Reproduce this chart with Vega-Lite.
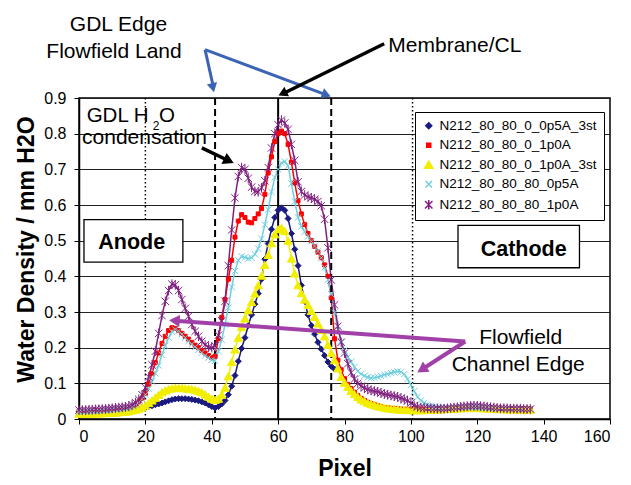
{
"$schema":"https://vega.github.io/schema/vega-lite/v6.json",
"width":531,"height":321,
"autosize":{"type":"none"},
"padding":{"left":79,"top":98,"right":21,"bottom":66},
"background":"white",
"config":{"font":"Liberation Sans","view":{"stroke":"#000","strokeWidth":1.5}},
"datasets":{
"d":[
{"s":"A","x":0,"y":0.020},{"s":"A","x":1,"y":0.020},{"s":"A","x":2,"y":0.020},{"s":"A","x":3,"y":0.020},{"s":"A","x":4,"y":0.020},{"s":"A","x":5,"y":0.020},{"s":"A","x":6,"y":0.020},{"s":"A","x":7,"y":0.020},{"s":"A","x":8,"y":0.021},{"s":"A","x":9,"y":0.021},
{"s":"A","x":10,"y":0.021},{"s":"A","x":11,"y":0.021},{"s":"A","x":12,"y":0.022},{"s":"A","x":13,"y":0.022},{"s":"A","x":14,"y":0.023},{"s":"A","x":15,"y":0.024},{"s":"A","x":16,"y":0.025},{"s":"A","x":17,"y":0.026},{"s":"A","x":18,"y":0.028},{"s":"A","x":19,"y":0.030},
{"s":"A","x":20,"y":0.032},{"s":"A","x":21,"y":0.035},{"s":"A","x":22,"y":0.037},{"s":"A","x":23,"y":0.040},{"s":"A","x":24,"y":0.042},{"s":"A","x":25,"y":0.045},{"s":"A","x":26,"y":0.048},{"s":"A","x":27,"y":0.051},{"s":"A","x":28,"y":0.054},{"s":"A","x":29,"y":0.056},
{"s":"A","x":30,"y":0.057},{"s":"A","x":31,"y":0.057},{"s":"A","x":32,"y":0.057},{"s":"A","x":33,"y":0.056},{"s":"A","x":34,"y":0.055},{"s":"A","x":35,"y":0.053},{"s":"A","x":36,"y":0.051},{"s":"A","x":37,"y":0.048},{"s":"A","x":38,"y":0.045},{"s":"A","x":39,"y":0.040},
{"s":"A","x":40,"y":0.035},{"s":"A","x":41,"y":0.031},{"s":"A","x":42,"y":0.035},{"s":"A","x":43,"y":0.042},{"s":"A","x":44,"y":0.052},{"s":"A","x":45,"y":0.068},{"s":"A","x":46,"y":0.092},{"s":"A","x":47,"y":0.122},{"s":"A","x":48,"y":0.162},{"s":"A","x":49,"y":0.198},
{"s":"A","x":50,"y":0.228},{"s":"A","x":51,"y":0.262},{"s":"A","x":52,"y":0.292},{"s":"A","x":53,"y":0.322},{"s":"A","x":54,"y":0.352},{"s":"A","x":55,"y":0.392},{"s":"A","x":56,"y":0.448},{"s":"A","x":57,"y":0.492},{"s":"A","x":58,"y":0.532},{"s":"A","x":59,"y":0.565},
{"s":"A","x":60,"y":0.585},{"s":"A","x":61,"y":0.592},{"s":"A","x":62,"y":0.585},{"s":"A","x":63,"y":0.562},{"s":"A","x":64,"y":0.520},{"s":"A","x":65,"y":0.476},{"s":"A","x":66,"y":0.430},{"s":"A","x":67,"y":0.375},{"s":"A","x":68,"y":0.330},{"s":"A","x":69,"y":0.292},
{"s":"A","x":70,"y":0.262},{"s":"A","x":71,"y":0.238},{"s":"A","x":72,"y":0.215},{"s":"A","x":73,"y":0.196},{"s":"A","x":74,"y":0.178},{"s":"A","x":75,"y":0.160},{"s":"A","x":76,"y":0.148},{"s":"A","x":77,"y":0.140},
{"s":"B","x":0,"y":0.020},{"s":"B","x":1,"y":0.020},{"s":"B","x":2,"y":0.021},{"s":"B","x":3,"y":0.021},{"s":"B","x":4,"y":0.022},{"s":"B","x":5,"y":0.022},{"s":"B","x":6,"y":0.023},{"s":"B","x":7,"y":0.023},{"s":"B","x":8,"y":0.024},{"s":"B","x":9,"y":0.025},
{"s":"B","x":10,"y":0.026},{"s":"B","x":11,"y":0.027},{"s":"B","x":12,"y":0.028},{"s":"B","x":13,"y":0.029},{"s":"B","x":14,"y":0.030},{"s":"B","x":15,"y":0.032},{"s":"B","x":16,"y":0.035},{"s":"B","x":17,"y":0.040},{"s":"B","x":18,"y":0.048},{"s":"B","x":19,"y":0.058},
{"s":"B","x":20,"y":0.072},{"s":"B","x":21,"y":0.098},{"s":"B","x":22,"y":0.128},{"s":"B","x":23,"y":0.158},{"s":"B","x":24,"y":0.185},{"s":"B","x":25,"y":0.212},{"s":"B","x":26,"y":0.232},{"s":"B","x":27,"y":0.248},{"s":"B","x":28,"y":0.256},{"s":"B","x":29,"y":0.254},
{"s":"B","x":30,"y":0.248},{"s":"B","x":31,"y":0.240},{"s":"B","x":32,"y":0.232},{"s":"B","x":33,"y":0.224},{"s":"B","x":34,"y":0.215},{"s":"B","x":35,"y":0.207},{"s":"B","x":36,"y":0.200},{"s":"B","x":37,"y":0.192},{"s":"B","x":38,"y":0.185},{"s":"B","x":39,"y":0.178},
{"s":"B","x":40,"y":0.172},{"s":"B","x":41,"y":0.176},{"s":"B","x":42,"y":0.225},{"s":"B","x":43,"y":0.285},{"s":"B","x":44,"y":0.335},{"s":"B","x":45,"y":0.392},{"s":"B","x":46,"y":0.445},{"s":"B","x":47,"y":0.510},{"s":"B","x":48,"y":0.555},{"s":"B","x":49,"y":0.573},
{"s":"B","x":50,"y":0.565},{"s":"B","x":51,"y":0.552},{"s":"B","x":52,"y":0.550},{"s":"B","x":53,"y":0.562},{"s":"B","x":54,"y":0.575},{"s":"B","x":55,"y":0.590},{"s":"B","x":56,"y":0.630},{"s":"B","x":57,"y":0.690},{"s":"B","x":58,"y":0.735},{"s":"B","x":59,"y":0.778},
{"s":"B","x":60,"y":0.800},{"s":"B","x":61,"y":0.807},{"s":"B","x":62,"y":0.800},{"s":"B","x":63,"y":0.770},{"s":"B","x":64,"y":0.720},{"s":"B","x":65,"y":0.662},{"s":"B","x":66,"y":0.612},{"s":"B","x":67,"y":0.575},{"s":"B","x":68,"y":0.545},{"s":"B","x":69,"y":0.520},
{"s":"B","x":70,"y":0.500},{"s":"B","x":71,"y":0.484},{"s":"B","x":72,"y":0.468},{"s":"B","x":73,"y":0.452},{"s":"B","x":74,"y":0.432},{"s":"B","x":75,"y":0.400},{"s":"B","x":76,"y":0.340},{"s":"B","x":77,"y":0.225},{"s":"B","x":78,"y":0.165},{"s":"B","x":79,"y":0.138},
{"s":"B","x":80,"y":0.113},{"s":"B","x":81,"y":0.097},{"s":"B","x":82,"y":0.085},{"s":"B","x":83,"y":0.075},{"s":"B","x":84,"y":0.066},{"s":"B","x":85,"y":0.058},{"s":"B","x":86,"y":0.052},{"s":"B","x":87,"y":0.047},{"s":"B","x":88,"y":0.043},{"s":"B","x":89,"y":0.040},
{"s":"B","x":90,"y":0.037},{"s":"B","x":91,"y":0.034},{"s":"B","x":92,"y":0.032},{"s":"B","x":93,"y":0.031},{"s":"B","x":94,"y":0.030},{"s":"B","x":95,"y":0.029},{"s":"B","x":96,"y":0.028},{"s":"B","x":97,"y":0.028},{"s":"B","x":98,"y":0.027},{"s":"B","x":99,"y":0.027},
{"s":"B","x":100,"y":0.027},{"s":"B","x":101,"y":0.027},{"s":"B","x":102,"y":0.027},{"s":"B","x":103,"y":0.027},{"s":"B","x":104,"y":0.027},{"s":"B","x":105,"y":0.027},{"s":"B","x":106,"y":0.027},{"s":"B","x":107,"y":0.027},{"s":"B","x":108,"y":0.028},{"s":"B","x":109,"y":0.028},
{"s":"B","x":110,"y":0.028},{"s":"B","x":111,"y":0.029},{"s":"B","x":112,"y":0.029},{"s":"B","x":113,"y":0.030},{"s":"B","x":114,"y":0.030},{"s":"B","x":115,"y":0.031},{"s":"B","x":116,"y":0.032},{"s":"B","x":117,"y":0.032},{"s":"B","x":118,"y":0.033},{"s":"B","x":119,"y":0.033},
{"s":"B","x":120,"y":0.033},{"s":"B","x":121,"y":0.033},{"s":"B","x":122,"y":0.032},{"s":"B","x":123,"y":0.032},{"s":"B","x":124,"y":0.031},{"s":"B","x":125,"y":0.030},{"s":"B","x":126,"y":0.030},{"s":"B","x":127,"y":0.029},{"s":"B","x":128,"y":0.029},{"s":"B","x":129,"y":0.029},
{"s":"B","x":130,"y":0.029},{"s":"B","x":131,"y":0.028},{"s":"B","x":132,"y":0.028},{"s":"B","x":133,"y":0.028},{"s":"B","x":134,"y":0.028},{"s":"B","x":135,"y":0.028},{"s":"B","x":136,"y":0.028},
{"s":"C","x":0,"y":0.015},{"s":"C","x":1,"y":0.015},{"s":"C","x":2,"y":0.015},{"s":"C","x":3,"y":0.015},{"s":"C","x":4,"y":0.015},{"s":"C","x":5,"y":0.016},{"s":"C","x":6,"y":0.016},{"s":"C","x":7,"y":0.016},{"s":"C","x":8,"y":0.017},{"s":"C","x":9,"y":0.017},
{"s":"C","x":10,"y":0.018},{"s":"C","x":11,"y":0.018},{"s":"C","x":12,"y":0.019},{"s":"C","x":13,"y":0.020},{"s":"C","x":14,"y":0.021},{"s":"C","x":15,"y":0.022},{"s":"C","x":16,"y":0.024},{"s":"C","x":17,"y":0.026},{"s":"C","x":18,"y":0.029},{"s":"C","x":19,"y":0.033},
{"s":"C","x":20,"y":0.038},{"s":"C","x":21,"y":0.045},{"s":"C","x":22,"y":0.052},{"s":"C","x":23,"y":0.060},{"s":"C","x":24,"y":0.068},{"s":"C","x":25,"y":0.075},{"s":"C","x":26,"y":0.080},{"s":"C","x":27,"y":0.084},{"s":"C","x":28,"y":0.086},{"s":"C","x":29,"y":0.087},
{"s":"C","x":30,"y":0.087},{"s":"C","x":31,"y":0.087},{"s":"C","x":32,"y":0.086},{"s":"C","x":33,"y":0.085},{"s":"C","x":34,"y":0.084},{"s":"C","x":35,"y":0.082},{"s":"C","x":36,"y":0.079},{"s":"C","x":37,"y":0.075},{"s":"C","x":38,"y":0.069},{"s":"C","x":39,"y":0.063},
{"s":"C","x":40,"y":0.057},{"s":"C","x":41,"y":0.054},{"s":"C","x":42,"y":0.057},{"s":"C","x":43,"y":0.068},{"s":"C","x":44,"y":0.088},{"s":"C","x":45,"y":0.120},{"s":"C","x":46,"y":0.160},{"s":"C","x":47,"y":0.195},{"s":"C","x":48,"y":0.228},{"s":"C","x":49,"y":0.258},
{"s":"C","x":50,"y":0.282},{"s":"C","x":51,"y":0.305},{"s":"C","x":52,"y":0.328},{"s":"C","x":53,"y":0.352},{"s":"C","x":54,"y":0.375},{"s":"C","x":55,"y":0.402},{"s":"C","x":56,"y":0.432},{"s":"C","x":57,"y":0.460},{"s":"C","x":58,"y":0.493},{"s":"C","x":59,"y":0.518},
{"s":"C","x":60,"y":0.532},{"s":"C","x":61,"y":0.536},{"s":"C","x":62,"y":0.527},{"s":"C","x":63,"y":0.500},{"s":"C","x":64,"y":0.450},{"s":"C","x":65,"y":0.408},{"s":"C","x":66,"y":0.375},{"s":"C","x":67,"y":0.353},{"s":"C","x":68,"y":0.335},{"s":"C","x":69,"y":0.320},
{"s":"C","x":70,"y":0.303},{"s":"C","x":71,"y":0.286},{"s":"C","x":72,"y":0.268},{"s":"C","x":73,"y":0.250},{"s":"C","x":74,"y":0.232},{"s":"C","x":75,"y":0.208},{"s":"C","x":76,"y":0.185},{"s":"C","x":77,"y":0.165},{"s":"C","x":78,"y":0.142},{"s":"C","x":79,"y":0.118},
{"s":"C","x":80,"y":0.102},{"s":"C","x":81,"y":0.090},{"s":"C","x":82,"y":0.079},{"s":"C","x":83,"y":0.070},{"s":"C","x":84,"y":0.062},{"s":"C","x":85,"y":0.055},{"s":"C","x":86,"y":0.050},{"s":"C","x":87,"y":0.046},{"s":"C","x":88,"y":0.042},{"s":"C","x":89,"y":0.039},
{"s":"C","x":90,"y":0.036},{"s":"C","x":91,"y":0.034},{"s":"C","x":92,"y":0.032},{"s":"C","x":93,"y":0.030},{"s":"C","x":94,"y":0.029},{"s":"C","x":95,"y":0.028},{"s":"C","x":96,"y":0.027},{"s":"C","x":97,"y":0.026},{"s":"C","x":98,"y":0.026},{"s":"C","x":99,"y":0.025},
{"s":"C","x":100,"y":0.025},{"s":"C","x":101,"y":0.025},{"s":"C","x":102,"y":0.025},{"s":"C","x":103,"y":0.025},{"s":"C","x":104,"y":0.025},{"s":"C","x":105,"y":0.026},{"s":"C","x":106,"y":0.026},{"s":"C","x":107,"y":0.026},{"s":"C","x":108,"y":0.027},{"s":"C","x":109,"y":0.027},
{"s":"C","x":110,"y":0.028},{"s":"C","x":111,"y":0.028},{"s":"C","x":112,"y":0.029},{"s":"C","x":113,"y":0.029},{"s":"C","x":114,"y":0.030},{"s":"C","x":115,"y":0.030},{"s":"C","x":116,"y":0.031},{"s":"C","x":117,"y":0.031},{"s":"C","x":118,"y":0.031},{"s":"C","x":119,"y":0.031},
{"s":"C","x":120,"y":0.031},{"s":"C","x":121,"y":0.031},{"s":"C","x":122,"y":0.030},{"s":"C","x":123,"y":0.030},{"s":"C","x":124,"y":0.029},{"s":"C","x":125,"y":0.029},{"s":"C","x":126,"y":0.028},{"s":"C","x":127,"y":0.028},{"s":"C","x":128,"y":0.028},{"s":"C","x":129,"y":0.027},
{"s":"C","x":130,"y":0.027},{"s":"C","x":131,"y":0.027},{"s":"C","x":132,"y":0.027},{"s":"C","x":133,"y":0.026},{"s":"C","x":134,"y":0.026},{"s":"C","x":135,"y":0.026},{"s":"C","x":136,"y":0.026},
{"s":"D","x":0,"y":0.020},{"s":"D","x":1,"y":0.020},{"s":"D","x":2,"y":0.021},{"s":"D","x":3,"y":0.021},{"s":"D","x":4,"y":0.022},{"s":"D","x":5,"y":0.022},{"s":"D","x":6,"y":0.023},{"s":"D","x":7,"y":0.023},{"s":"D","x":8,"y":0.024},{"s":"D","x":9,"y":0.025},
{"s":"D","x":10,"y":0.026},{"s":"D","x":11,"y":0.027},{"s":"D","x":12,"y":0.028},{"s":"D","x":13,"y":0.029},{"s":"D","x":14,"y":0.030},{"s":"D","x":15,"y":0.032},{"s":"D","x":16,"y":0.035},{"s":"D","x":17,"y":0.040},{"s":"D","x":18,"y":0.047},{"s":"D","x":19,"y":0.056},
{"s":"D","x":20,"y":0.068},{"s":"D","x":21,"y":0.085},{"s":"D","x":22,"y":0.105},{"s":"D","x":23,"y":0.128},{"s":"D","x":24,"y":0.150},{"s":"D","x":25,"y":0.180},{"s":"D","x":26,"y":0.205},{"s":"D","x":27,"y":0.228},{"s":"D","x":28,"y":0.245},{"s":"D","x":29,"y":0.251},
{"s":"D","x":30,"y":0.247},{"s":"D","x":31,"y":0.238},{"s":"D","x":32,"y":0.228},{"s":"D","x":33,"y":0.218},{"s":"D","x":34,"y":0.210},{"s":"D","x":35,"y":0.202},{"s":"D","x":36,"y":0.194},{"s":"D","x":37,"y":0.186},{"s":"D","x":38,"y":0.178},{"s":"D","x":39,"y":0.172},
{"s":"D","x":40,"y":0.166},{"s":"D","x":41,"y":0.163},{"s":"D","x":42,"y":0.190},{"s":"D","x":43,"y":0.222},{"s":"D","x":44,"y":0.265},{"s":"D","x":45,"y":0.312},{"s":"D","x":46,"y":0.370},{"s":"D","x":47,"y":0.415},{"s":"D","x":48,"y":0.445},{"s":"D","x":49,"y":0.456},
{"s":"D","x":50,"y":0.453},{"s":"D","x":51,"y":0.450},{"s":"D","x":52,"y":0.452},{"s":"D","x":53,"y":0.462},{"s":"D","x":54,"y":0.478},{"s":"D","x":55,"y":0.505},{"s":"D","x":56,"y":0.545},{"s":"D","x":57,"y":0.587},{"s":"D","x":58,"y":0.637},{"s":"D","x":59,"y":0.677},
{"s":"D","x":60,"y":0.700},{"s":"D","x":61,"y":0.718},{"s":"D","x":62,"y":0.722},{"s":"D","x":63,"y":0.710},{"s":"D","x":64,"y":0.660},{"s":"D","x":65,"y":0.610},{"s":"D","x":66,"y":0.565},{"s":"D","x":67,"y":0.540},{"s":"D","x":68,"y":0.525},{"s":"D","x":69,"y":0.512},
{"s":"D","x":70,"y":0.498},{"s":"D","x":71,"y":0.485},{"s":"D","x":72,"y":0.470},{"s":"D","x":73,"y":0.452},{"s":"D","x":74,"y":0.425},{"s":"D","x":75,"y":0.390},{"s":"D","x":76,"y":0.350},{"s":"D","x":77,"y":0.298},{"s":"D","x":78,"y":0.250},{"s":"D","x":79,"y":0.218},
{"s":"D","x":80,"y":0.192},{"s":"D","x":81,"y":0.174},{"s":"D","x":82,"y":0.160},{"s":"D","x":83,"y":0.146},{"s":"D","x":84,"y":0.134},{"s":"D","x":85,"y":0.126},{"s":"D","x":86,"y":0.121},{"s":"D","x":87,"y":0.117},{"s":"D","x":88,"y":0.115},{"s":"D","x":89,"y":0.116},
{"s":"D","x":90,"y":0.118},{"s":"D","x":91,"y":0.121},{"s":"D","x":92,"y":0.124},{"s":"D","x":93,"y":0.126},{"s":"D","x":94,"y":0.129},{"s":"D","x":95,"y":0.131},{"s":"D","x":96,"y":0.133},{"s":"D","x":97,"y":0.132},{"s":"D","x":98,"y":0.126},{"s":"D","x":99,"y":0.112},
{"s":"D","x":100,"y":0.095},{"s":"D","x":101,"y":0.078},{"s":"D","x":102,"y":0.062},{"s":"D","x":103,"y":0.052},{"s":"D","x":104,"y":0.045},{"s":"D","x":105,"y":0.040},{"s":"D","x":106,"y":0.037},{"s":"D","x":107,"y":0.035},{"s":"D","x":108,"y":0.033},{"s":"D","x":109,"y":0.032},
{"s":"D","x":110,"y":0.031},{"s":"D","x":111,"y":0.031},{"s":"D","x":112,"y":0.031},{"s":"D","x":113,"y":0.031},{"s":"D","x":114,"y":0.032},{"s":"D","x":115,"y":0.032},{"s":"D","x":116,"y":0.033},{"s":"D","x":117,"y":0.033},{"s":"D","x":118,"y":0.033},{"s":"D","x":119,"y":0.033},
{"s":"D","x":120,"y":0.032},{"s":"D","x":121,"y":0.032},{"s":"D","x":122,"y":0.031},{"s":"D","x":123,"y":0.031},{"s":"D","x":124,"y":0.030},{"s":"D","x":125,"y":0.030},{"s":"D","x":126,"y":0.030},{"s":"D","x":127,"y":0.030},{"s":"D","x":128,"y":0.029},{"s":"D","x":129,"y":0.029},
{"s":"D","x":130,"y":0.029},{"s":"D","x":131,"y":0.029},{"s":"D","x":132,"y":0.028},{"s":"D","x":133,"y":0.028},{"s":"D","x":134,"y":0.028},{"s":"D","x":135,"y":0.028},{"s":"D","x":136,"y":0.028},
{"s":"E","x":0,"y":0.025},{"s":"E","x":1,"y":0.025},{"s":"E","x":2,"y":0.025},{"s":"E","x":3,"y":0.026},{"s":"E","x":4,"y":0.026},{"s":"E","x":5,"y":0.027},{"s":"E","x":6,"y":0.027},{"s":"E","x":7,"y":0.028},{"s":"E","x":8,"y":0.028},{"s":"E","x":9,"y":0.029},
{"s":"E","x":10,"y":0.030},{"s":"E","x":11,"y":0.031},{"s":"E","x":12,"y":0.032},{"s":"E","x":13,"y":0.033},{"s":"E","x":14,"y":0.034},{"s":"E","x":15,"y":0.036},{"s":"E","x":16,"y":0.040},{"s":"E","x":17,"y":0.046},{"s":"E","x":18,"y":0.055},{"s":"E","x":19,"y":0.068},
{"s":"E","x":20,"y":0.088},{"s":"E","x":21,"y":0.118},{"s":"E","x":22,"y":0.152},{"s":"E","x":23,"y":0.190},{"s":"E","x":24,"y":0.240},{"s":"E","x":25,"y":0.290},{"s":"E","x":26,"y":0.330},{"s":"E","x":27,"y":0.360},{"s":"E","x":28,"y":0.378},{"s":"E","x":29,"y":0.376},
{"s":"E","x":30,"y":0.360},{"s":"E","x":31,"y":0.335},{"s":"E","x":32,"y":0.310},{"s":"E","x":33,"y":0.288},{"s":"E","x":34,"y":0.265},{"s":"E","x":35,"y":0.246},{"s":"E","x":36,"y":0.232},{"s":"E","x":37,"y":0.218},{"s":"E","x":38,"y":0.208},{"s":"E","x":39,"y":0.202},
{"s":"E","x":40,"y":0.200},{"s":"E","x":41,"y":0.205},{"s":"E","x":42,"y":0.235},{"s":"E","x":43,"y":0.275},{"s":"E","x":44,"y":0.330},{"s":"E","x":45,"y":0.430},{"s":"E","x":46,"y":0.530},{"s":"E","x":47,"y":0.620},{"s":"E","x":48,"y":0.680},{"s":"E","x":49,"y":0.705},
{"s":"E","x":50,"y":0.700},{"s":"E","x":51,"y":0.675},{"s":"E","x":52,"y":0.650},{"s":"E","x":53,"y":0.638},{"s":"E","x":54,"y":0.637},{"s":"E","x":55,"y":0.648},{"s":"E","x":56,"y":0.668},{"s":"E","x":57,"y":0.705},{"s":"E","x":58,"y":0.760},{"s":"E","x":59,"y":0.800},
{"s":"E","x":60,"y":0.825},{"s":"E","x":61,"y":0.838},{"s":"E","x":62,"y":0.830},{"s":"E","x":63,"y":0.812},{"s":"E","x":64,"y":0.770},{"s":"E","x":65,"y":0.725},{"s":"E","x":66,"y":0.665},{"s":"E","x":67,"y":0.638},{"s":"E","x":68,"y":0.628},{"s":"E","x":69,"y":0.623},
{"s":"E","x":70,"y":0.620},{"s":"E","x":71,"y":0.616},{"s":"E","x":72,"y":0.610},{"s":"E","x":73,"y":0.598},{"s":"E","x":74,"y":0.560},{"s":"E","x":75,"y":0.480},{"s":"E","x":76,"y":0.390},{"s":"E","x":77,"y":0.320},{"s":"E","x":78,"y":0.260},{"s":"E","x":79,"y":0.215},
{"s":"E","x":80,"y":0.185},{"s":"E","x":81,"y":0.155},{"s":"E","x":82,"y":0.130},{"s":"E","x":83,"y":0.112},{"s":"E","x":84,"y":0.100},{"s":"E","x":85,"y":0.092},{"s":"E","x":86,"y":0.087},{"s":"E","x":87,"y":0.083},{"s":"E","x":88,"y":0.080},{"s":"E","x":89,"y":0.078},
{"s":"E","x":90,"y":0.076},{"s":"E","x":91,"y":0.073},{"s":"E","x":92,"y":0.070},{"s":"E","x":93,"y":0.068},{"s":"E","x":94,"y":0.066},{"s":"E","x":95,"y":0.064},{"s":"E","x":96,"y":0.062},{"s":"E","x":97,"y":0.058},{"s":"E","x":98,"y":0.055},{"s":"E","x":99,"y":0.051},
{"s":"E","x":100,"y":0.045},{"s":"E","x":101,"y":0.038},{"s":"E","x":102,"y":0.034},{"s":"E","x":103,"y":0.032},{"s":"E","x":104,"y":0.031},{"s":"E","x":105,"y":0.030},{"s":"E","x":106,"y":0.030},{"s":"E","x":107,"y":0.029},{"s":"E","x":108,"y":0.029},{"s":"E","x":109,"y":0.029},
{"s":"E","x":110,"y":0.029},{"s":"E","x":111,"y":0.030},{"s":"E","x":112,"y":0.031},{"s":"E","x":113,"y":0.032},{"s":"E","x":114,"y":0.033},{"s":"E","x":115,"y":0.034},{"s":"E","x":116,"y":0.035},{"s":"E","x":117,"y":0.036},{"s":"E","x":118,"y":0.037},{"s":"E","x":119,"y":0.037},
{"s":"E","x":120,"y":0.037},{"s":"E","x":121,"y":0.036},{"s":"E","x":122,"y":0.035},{"s":"E","x":123,"y":0.034},{"s":"E","x":124,"y":0.033},{"s":"E","x":125,"y":0.032},{"s":"E","x":126,"y":0.031},{"s":"E","x":127,"y":0.030},{"s":"E","x":128,"y":0.030},{"s":"E","x":129,"y":0.030},
{"s":"E","x":130,"y":0.029},{"s":"E","x":131,"y":0.029},{"s":"E","x":132,"y":0.029},{"s":"E","x":133,"y":0.029},{"s":"E","x":134,"y":0.028},{"s":"E","x":135,"y":0.028},{"s":"E","x":136,"y":0.028}
]},
"layer":[
{"data":{"name":"d"},"mark":{"type":"line","strokeWidth":1.5},
 "encoding":{
  "x":{"field":"x","type":"quantitative","scale":{"domain":[0,160],"nice":false},
   "axis":{"title":"Pixel","titleFontSize":23,"titleFontWeight":"bold","titleColor":"#000","titleY":56,"titleBaseline":"alphabetic",
    "values":[0,20,40,60,80,100,120,140,160],"labelOverlap":false,"labelFontSize":16,"labelColor":"#000","tickColor":"#000","tickSize":5,"labelPadding":4,
    "domainColor":"#000","domainWidth":1.5,"grid":false}},
  "y":{"field":"y","type":"quantitative","scale":{"domain":[0,0.9],"nice":false},
   "axis":{"title":"Water Density / mm H2O","titleFontSize":23,"titleFontWeight":"bold","titleColor":"#000","titleX":-46,"titleY":151,"titleBaseline":"alphabetic",
    "values":[0,0.1,0.2,0.3,0.4,0.5,0.6,0.7,0.8,0.9],"tickCount":10,"labelOverlap":false,"format":".1~f","labelFontSize":16,"labelColor":"#000","tickColor":"#000","tickSize":5,"labelPadding":8,
    "domainColor":"#000","domainWidth":1.5,"grid":true,"gridColor":"#222","gridWidth":1}},
  "color":{"field":"s","type":"nominal","scale":{"domain":["A","B","C","D","E"],"range":["#1A1A80","#FF0000","#F2EE00","#6FCFDF","#802080"]},
   "legend":{"orient":"none","legendX":336,"legendY":14,"title":null,"fillColor":"#ffffff","strokeColor":"#000000","padding":7,"labelFontSize":13.5,"labelColor":"#000","rowPadding":4.5,
    "labelExpr":"datum.label=='A'?'N212_80_80_0_0p5A_3st':datum.label=='B'?'N212_80_80_0_1p0A':datum.label=='C'?'N212_80_80_0_1p0A_3st':datum.label=='D'?'N212_80_80_80_0p5A':'N212_80_80_80_1p0A'"}}
 }},
{"data":{"values":[{"x":20},{"x":100.5}]},"mark":{"type":"rule","color":"#000","strokeWidth":1.5,"strokeDash":[1.5,2.5]},
 "encoding":{"x":{"field":"x","type":"quantitative"}}},
{"data":{"values":[{"x":41},{"x":76}]},"mark":{"type":"rule","color":"#000","strokeWidth":2,"strokeDash":[7,4]},
 "encoding":{"x":{"field":"x","type":"quantitative"}}},
{"data":{"values":[{"x":60}]},"mark":{"type":"rule","color":"#000","strokeWidth":2},
 "encoding":{"x":{"field":"x","type":"quantitative"}}},
{"data":{"name":"d"},"mark":{"type":"point","filled":true,"strokeWidth":1,"opacity":1},
 "encoding":{
  "x":{"field":"x","type":"quantitative"},
  "y":{"field":"y","type":"quantitative"},
  "color":{"field":"s","type":"nominal"},
  "stroke":{"field":"s","type":"nominal","scale":{"domain":["A","B","C","D","E"],"range":["#1A1A80","#FF0000","#F2EE00","#6FCFDF","#802080"]}},
  "shape":{"field":"s","type":"nominal","scale":{"domain":["A","B","C","D","E"],"range":["diamond","square","triangle-up","M-1,-1L1,1M-1,1L1,-1","M-1,-1L1,1M-1,1L1,-1M0,-1.3L0,1.3"]}},
  "size":{"field":"s","type":"nominal","scale":{"type":"ordinal","domain":["A","B","C","D","E"],"range":[36,16,70,40,55]}}
 }},
{"data":{"values":[{"x":1.5,"x2":31.3,"y":0.44,"y2":0.559},{"x":114.2,"x2":150.8,"y":0.424,"y2":0.543}]},
 "mark":{"type":"rect","fill":"#fff","stroke":"#000","strokeWidth":1.3},
 "encoding":{"x":{"field":"x","type":"quantitative"},"x2":{"field":"x2"},"y":{"field":"y","type":"quantitative"},"y2":{"field":"y2"}}},
{"data":{"values":[{"x":15.9,"y":0.494,"t":"Anode"},{"x":134,"y":0.475,"t":"Cathode"}]},
 "mark":{"type":"text","fontSize":21.5,"fontWeight":"bold","align":"center","baseline":"middle","color":"#000"},
 "encoding":{"x":{"field":"x","type":"quantitative"},"y":{"field":"y","type":"quantitative"},"text":{"field":"t"}}},
{"data":{"values":[{"x":11.9,"y":1.106,"t":"GDL Edge"},{"x":10.55,"y":1.03,"t":"Flowfield Land"},{"x":133.1,"y":0.2276,"t":"Flowfield"},{"x":132.35,"y":0.1508,"t":"Channel Edge"},{"x":19.75,"y":0.789,"t":"condensation"}]},
 "mark":{"type":"text","fontSize":21,"align":"center","baseline":"middle","color":"#000"},
 "encoding":{"x":{"field":"x","type":"quantitative"},"y":{"field":"y","type":"quantitative"},"text":{"field":"t"}}},
{"data":{"values":[{"x":93.2,"y":1.047,"t":"Membrane/CL"}]},
 "mark":{"type":"text","fontSize":21,"align":"left","baseline":"middle","color":"#000"},
 "encoding":{"x":{"field":"x","type":"quantitative"},"y":{"field":"y","type":"quantitative"},"text":{"field":"t"}}},
{"data":{"values":[{"x":2.3,"y":0.8487,"t":"GDL H"},{"x":24.1,"y":0.8487,"t":"O"}]},
 "mark":{"type":"text","fontSize":20.5,"align":"left","baseline":"middle","color":"#000"},
 "encoding":{"x":{"field":"x","type":"quantitative"},"y":{"field":"y","type":"quantitative"},"text":{"field":"t"}}},
{"data":{"values":[{"x":22.2,"y":0.822,"t":"2"}]},
 "mark":{"type":"text","fontSize":12,"align":"left","baseline":"middle","color":"#000"},
 "encoding":{"x":{"field":"x","type":"quantitative"},"y":{"field":"y","type":"quantitative"},"text":{"field":"t"}}},
{"data":{"values":[{"x":37.99,"y":1.0356,"x2":40.5,"y2":0.93},{"x":37.99,"y":1.0356,"x2":74.5,"y2":0.909}]},
 "mark":{"type":"rule","color":"#3C64B4","strokeWidth":3},
 "encoding":{"x":{"field":"x","type":"quantitative"},"y":{"field":"y","type":"quantitative"},"x2":{"field":"x2"},"y2":{"field":"y2"}}},
{"data":{"values":[{"x":91.95,"y":1.052,"x2":61.4,"y2":0.912},{"x":37.0,"y":0.760,"x2":45.1,"y2":0.724}]},
 "mark":{"type":"rule","color":"#000","strokeWidth":3.5},
 "encoding":{"x":{"field":"x","type":"quantitative"},"y":{"field":"y","type":"quantitative"},"x2":{"field":"x2"},"y2":{"field":"y2"}}},
{"data":{"values":[{"x":116.37,"y":0.2172,"x2":28.8,"y2":0.2757},{"x":116.37,"y":0.2172,"x2":103.3,"y2":0.1387}]},
 "mark":{"type":"rule","color":"#A040A8","strokeWidth":4},
 "encoding":{"x":{"field":"x","type":"quantitative"},"y":{"field":"y","type":"quantitative"},"x2":{"field":"x2"},"y2":{"field":"y2"}}},
{"data":{"values":[{"x":40.37,"y":0.9288}]},"mark":{"type":"point","shape":"triangle-up","filled":true,"color":"#3C64B4","size":110,"angle":166.9,"opacity":1},
 "encoding":{"x":{"field":"x","type":"quantitative"},"y":{"field":"y","type":"quantitative"}}},
{"data":{"values":[{"x":74.56,"y":0.9088}]},"mark":{"type":"point","shape":"triangle-up","filled":true,"color":"#3C64B4","size":110,"angle":110.5,"opacity":1},
 "encoding":{"x":{"field":"x","type":"quantitative"},"y":{"field":"y","type":"quantitative"}}},
{"data":{"values":[{"x":61.35,"y":0.9128}]},"mark":{"type":"point","shape":"triangle-up","filled":true,"color":"#000","size":110,"angle":243.9,"opacity":1},
 "encoding":{"x":{"field":"x","type":"quantitative"},"y":{"field":"y","type":"quantitative"}}},
{"data":{"values":[{"x":45.16,"y":0.7239}]},"mark":{"type":"point","shape":"triangle-up","filled":true,"color":"#000","size":150,"angle":115.4,"opacity":1},
 "encoding":{"x":{"field":"x","type":"quantitative"},"y":{"field":"y","type":"quantitative"}}},
{"data":{"values":[{"x":28.73,"y":0.2758}]},"mark":{"type":"point","shape":"triangle-up","filled":true,"color":"#A040A8","size":150,"angle":274.1,"opacity":1},
 "encoding":{"x":{"field":"x","type":"quantitative"},"y":{"field":"y","type":"quantitative"}}},
{"data":{"values":[{"x":103.3,"y":0.1387}]},"mark":{"type":"point","shape":"triangle-up","filled":true,"color":"#A040A8","size":150,"angle":237,"opacity":1},
 "encoding":{"x":{"field":"x","type":"quantitative"},"y":{"field":"y","type":"quantitative"}}}
]
}
